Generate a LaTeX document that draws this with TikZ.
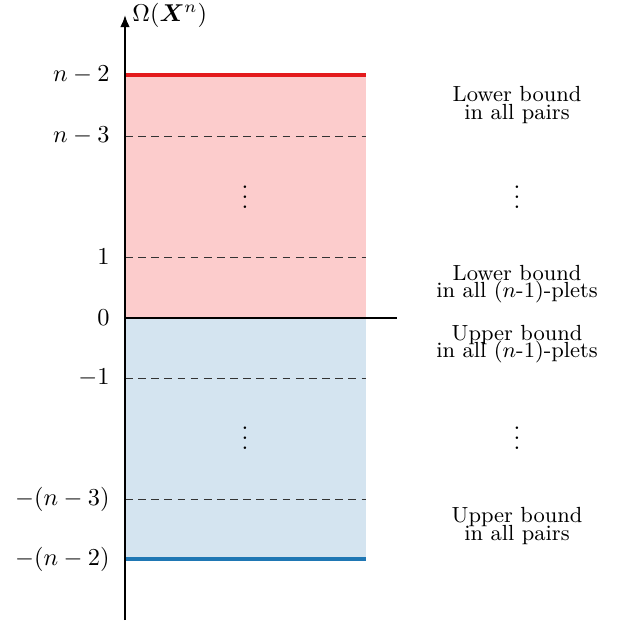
\documentclass[tikz,border=0pt]{standalone}
\usepackage{amsmath,bm}
\usetikzlibrary{arrows.meta}
\definecolor{redline}{RGB}{228,26,28}
\definecolor{redfill}{RGB}{252,204,204}
\definecolor{blueline}{RGB}{31,119,180}
\definecolor{bluefill}{RGB}{212,228,240}
\begin{document}
\begin{tikzpicture}[x=0.411pt,y=-0.411pt,
  ticklab/.style={anchor=east,inner sep=0pt},
  dashline/.style={dashed,black!80,line width=0.4pt,dash pattern=on 3.2pt off 2.2pt},
  boundtext/.style={align=center,font=\small,inner sep=0pt}]
\useasboundingbox (0,0) rectangle (627,620);
% fills
\fill[redfill] (125,75) rectangle (366,318);
\fill[bluefill] (125,318) rectangle (366,559);
% dashed levels
\foreach \yy in {136,257,378,499}
  \draw[dashline] (125,\yy) -- (366,\yy);
% bounds
\draw[redline,line width=1.4pt] (125,75) -- (366,75);
\draw[blueline,line width=1.4pt] (125,559) -- (366,559);
% zero line
\coordinate (z0) at (125,318);
\coordinate (z1) at (397,318);
\draw[line width=0.6pt] (z0) -- (z1);
% axis
\coordinate (abot) at (125,620);
\coordinate (atop) at (125,15);
\draw[line width=0.8pt,-{Latex[length=5pt,width=4pt]}] (abot) -- (atop);
\node[anchor=west,inner sep=0pt] (axlab) at (132,15) {$\Omega(\bm{X}^n)$};
% tick labels
\node[ticklab] (t1) at (110,75) {$n-2$};
\node[ticklab] (t2) at (110,136) {$n-3$};
\node[ticklab] (t3) at (110,257) {$1$};
\node[ticklab] (t4) at (110,318) {$0$};
\node[ticklab] (t5) at (110,378) {$-1$};
\node[ticklab] (t6) at (110,499) {$-(n-3)$};
\node[ticklab] (t7) at (110,559) {$-(n-2)$};
% vdots
\node[inner sep=0pt] (d1) at (245,190) {$\vdots$};
\node[inner sep=0pt] (d2) at (517,190) {$\vdots$};
\node[inner sep=0pt] (d3) at (245,431) {$\vdots$};
\node[inner sep=0pt] (d4) at (517,431) {$\vdots$};
% right texts
\node[boundtext] (b1) at (517,105) {Lower bound\\[-4pt]in all pairs};
\node[boundtext] (b2) at (517,284) {Lower bound\\[-4pt]in all ($n$-1)-plets};
\node[boundtext] (b3) at (517,344) {Upper bound\\[-4pt]in all ($n$-1)-plets};
\node[boundtext] (b4) at (517,526) {Upper bound\\[-4pt]in all pairs};
\end{tikzpicture}
\end{document}
